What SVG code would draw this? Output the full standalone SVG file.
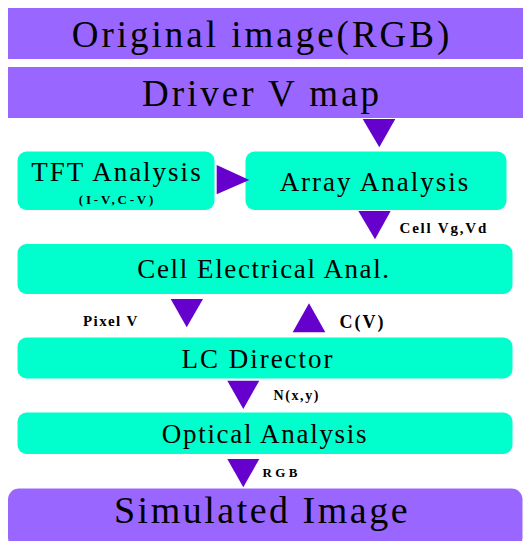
<svg xmlns="http://www.w3.org/2000/svg" width="529" height="541" viewBox="0 0 529 541">
<style>
.p{fill:#9966FF}
.c{fill:#00FFCC}
.a{fill:#6600CC}
text{fill:#000}
.big{font-size:37px;letter-spacing:3px}
.mid{font-size:27px;letter-spacing:2px}
.lb{font-weight:bold}
</style>
<rect width="529" height="541" fill="#fff"/>
<g font-family="Liberation Serif, DejaVu Serif, serif">
<g id="original">
<rect class="p" x="8" y="8" width="515" height="51"/>
<text class="big" x="262" y="47" text-anchor="middle">Original image(RGB)</text>
</g>
<g id="driver">
<rect class="p" x="8" y="67" width="515" height="51"/>
<text class="big" x="262" y="106" text-anchor="middle">Driver V map</text>
</g>
<g id="tft">
<rect class="c" x="17.5" y="151.5" width="197" height="58.5" rx="9"/>
<text class="mid" x="117" y="181" text-anchor="middle">TFT Analysis</text>
<text class="lb" x="117.5" y="204" text-anchor="middle" style="font-size:13px;letter-spacing:2.8px">(I-V,C-V)</text>
</g>
<g id="array">
<rect class="c" x="245.5" y="151.5" width="261" height="58.5" rx="9"/>
<text class="mid" x="375" y="191" text-anchor="middle">Array Analysis</text>
</g>
<g id="cell">
<rect class="c" x="17.5" y="244" width="495" height="50" rx="9"/>
<text class="mid" x="264" y="278" text-anchor="middle" style="letter-spacing:1.6px">Cell Electrical Anal.</text>
</g>
<g id="lc">
<rect class="c" x="17.5" y="337.5" width="495" height="41" rx="9"/>
<text class="mid" x="258" y="368" text-anchor="middle">LC Director</text>
</g>
<g id="optical">
<rect class="c" x="17.5" y="412.5" width="495" height="41.5" rx="9"/>
<text class="mid" x="265" y="443" text-anchor="middle" style="letter-spacing:1.7px">Optical Analysis</text>
</g>
<g id="simulated">
<rect class="p" x="8" y="488.5" width="514.5" height="60" rx="11"/>
<text x="262" y="522.5" text-anchor="middle" style="font-size:38px;letter-spacing:2.5px">Simulated Image</text>
</g>
<g id="connectors">
<polygon class="a" points="362.7,119 395.3,119 379.3,147.3"/>
<polygon class="a" points="216.7,165 216.7,194.3 249.3,180"/>
<polygon class="a" points="358.3,211 390.7,211 375,239.3"/>
<text class="lb" x="399.5" y="232.5" style="font-size:15px;letter-spacing:1.8px">Cell Vg,Vd</text>
<polygon class="a" points="170.7,299 203,299 186.7,327.3"/>
<text class="lb" x="83" y="325.5" style="font-size:15px;letter-spacing:1.4px">Pixel V</text>
<polygon class="a" points="292.7,332.3 325.3,332.3 309,303.3"/>
<text class="lb" x="339.5" y="328" style="font-size:18px;letter-spacing:2px">C(V)</text>
<polygon class="a" points="227.3,380.7 259.3,380.7 243.3,409"/>
<text class="lb" x="273.5" y="400" style="font-size:14px;letter-spacing:1.6px">N(x,y)</text>
<polygon class="a" points="227.3,459 259.3,459 243.3,487.3"/>
<text class="lb" x="262.5" y="476.5" style="font-size:13px;letter-spacing:3.4px">RGB</text>
</g>
</g>
</svg>
